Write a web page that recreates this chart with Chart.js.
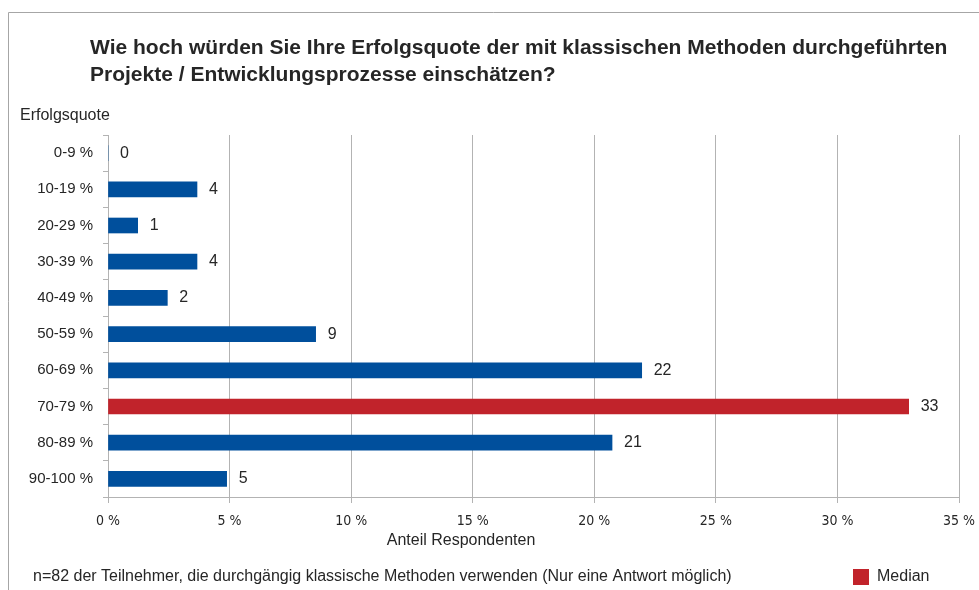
<!DOCTYPE html>
<html>
<head>
<meta charset="utf-8">
<script src="https://cdn.jsdelivr.net/npm/chart.js@4"></script>
<style>
  html, body { margin: 0; padding: 0; background: #fff; }
  #wrap { width: 979px; height: 590px; position: relative; }
</style>
</head>
<body>
<div id="wrap"><canvas id="chart" width="979" height="590"></canvas></div>
<script>
// Kategorien (Erfolgsquote)
var categories = ['0-9 %', '10-19 %', '20-29 %', '30-39 %', '40-49 %', '50-59 %', '60-69 %', '70-79 %', '80-89 %', '90-100 %'];
// Anteil Respondenten in Prozent (Balkenlänge)
var shares = [0, 3.66, 1.22, 3.66, 2.44, 8.54, 21.95, 32.93, 20.73, 4.88];
// gerundete Werte an den Balken
var valueLabels = ['0', '4', '1', '4', '2', '9', '22', '33', '21', '5'];
var medianIndex = 7;
var xTicks = [0, 5, 10, 15, 20, 25, 30, 35];

var blue = '#004f9c';
var red = '#c1232b';
var textColor = '#262626';
var fontFamily = '"Liberation Sans", Arial, sans-serif';

var colors = categories.map(function(c, i) {
    return i === medianIndex ? red : blue;
});

// Rahmen, Titel, Beschriftungen
var decorPlugin = {
    id: 'decor',
    beforeDraw: function(chart) {
        var ctx = chart.ctx;
        ctx.save();
        ctx.strokeStyle = '#a6a6a6';
        ctx.lineWidth = 1;
        ctx.beginPath();
        ctx.moveTo(8.5, 590);
        ctx.lineTo(8.5, 12.5);
        ctx.lineTo(979, 12.5);
        ctx.stroke();
        ctx.restore();
    },
    afterDraw: function(chart) {
        var ctx = chart.ctx;
        ctx.save();
        ctx.fillStyle = textColor;
        ctx.textBaseline = 'middle';
        ctx.textAlign = 'left';
        ctx.font = 'bold 21px ' + fontFamily;
        ctx.fillText('Wie hoch würden Sie Ihre Erfolgsquote der mit klassischen Methoden durchgeführten', 90, 48);
        ctx.fillText('Projekte / Entwicklungsprozesse einschätzen?', 90, 75);

        ctx.font = '16px ' + fontFamily;
        ctx.fillText('Erfolgsquote', 20, 116);
        ctx.fillText('n=82 der Teilnehmer, die durchgängig klassische Methoden verwenden (Nur eine Antwort möglich)', 33, 577);

        ctx.textAlign = 'center';
        ctx.fillText('Anteil Respondenten', 461, 541);

        // Legende
        ctx.fillStyle = red;
        ctx.fillRect(853, 569, 16, 16);
        ctx.fillStyle = textColor;
        ctx.textAlign = 'left';
        ctx.fillText('Median', 877, 577);

        // Werte an den Balken
        var meta = chart.getDatasetMeta(0);
        ctx.font = '16px ' + fontFamily;
        meta.data.forEach(function(bar, i) {
            ctx.fillText(valueLabels[i], bar.x + 12, bar.y);
        });
        ctx.restore();
    }
};

var ctx = document.getElementById('chart').getContext('2d');
new Chart(ctx, {
    type: 'bar',
    data: {
        labels: categories,
        datasets: [{
            data: shares,
            backgroundColor: colors,
            borderWidth: 0,
            barThickness: 15
        }]
    },
    options: {
        indexAxis: 'y',
        responsive: false,
        animation: false,
        layout: { padding: { left: 0, top: 135, right: 20, bottom: 0 } },
        plugins: {
            legend: { display: false },
            tooltip: { enabled: false }
        },
        scales: {
            x: {
                min: 0,
                max: 35,
                afterBuildTicks: function(scale) {
                    scale.ticks = xTicks.map(function(v) { return { value: v }; });
                },
                afterFit: function(scale) {
                    scale.height = 93;
                    scale.paddingLeft = 0;
                    scale.paddingRight = 0;
                },
                grid: {
                    color: '#b3b3b3',
                    tickLength: 6,
                    tickColor: '#b3b3b3'
                },
                border: { color: '#b3b3b3' },
                ticks: {
                    color: textColor,
                    padding: 10,
                    font: { size: 14, family: '"Liberation Sans Narrow", "DejaVu Sans Condensed", "Liberation Sans", sans-serif' },
                    callback: function(v) { return v + ' %'; }
                }
            },
            y: {
                afterFit: function(scale) { scale.width = 108; },
                grid: {
                    drawOnChartArea: false,
                    offset: true,
                    tickLength: 5,
                    tickColor: '#b3b3b3'
                },
                border: { color: '#b3b3b3' },
                ticks: {
                    color: textColor,
                    padding: 10,
                    font: { size: 15, family: fontFamily }
                }
            }
        }
    },
    plugins: [decorPlugin]
});
</script>
</body>
</html>
